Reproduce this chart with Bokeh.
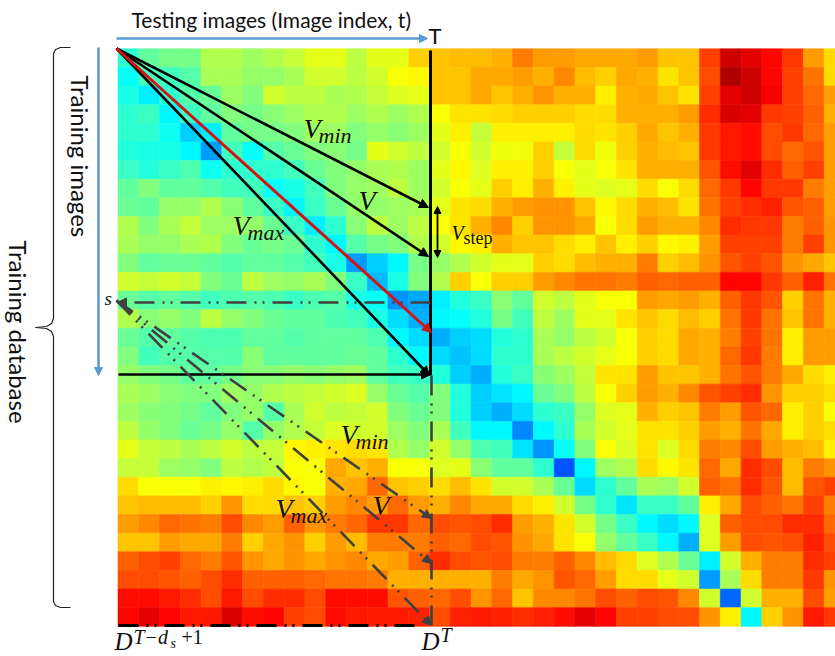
from bokeh.plotting import figure
from bokeh.models import Range1d, ColumnDataSource, LinearColorMapper, Arrow, NormalHead
from bokeh.transform import transform
from bokeh.core.properties import value
from bokeh.embed import file_html
from bokeh.resources import INLINE
import math

# Cell values on a 0-100 colour scale, one list per training image (row), 35 testing images (columns)
similarity = [
 [42,47,49,49,55,55,53,55,57,60,60,56,60,60,67,68,69, 69,70,75,72,72,71,71,71,72,68,68,81,92,90,87,82,72,66],
 [38,44,44,46,54,54,52,52,54,58,58,56,58,62,63,68,68, 71,71,72,70,74,69,67,71,70,65,68,80,95,92,87,81,76,66],
 [40,36,42,46,48,53,50,58,56,56,54,55,57,59,60,68,68, 71,68,70,73,70,70,64,70,71,68,65,81,90,92,88,81,77,72],
 [42,43,37,43,47,50,49,51,53,55,55,53,55,53,55,62,65, 65,66,67,67,67,66,66,70,70,70,72,83,91,90,82,81,78,70],
 [42,42,39,33,36,47,49,49,50,53,53,50,52,51,53,60,64, 57,64,64,64,64,66,65,67,71,68,70,82,85,86,80,82,77,72],
 [41,40,40,37,28,44,38,46,48,50,51,49,60,58,56,58,62, 58,61,61,67,57,66,61,67,70,69,68,82,85,86,80,77,79,72],
 [43,41,43,45,39,42,42,42,44,48,50,52,54,55,53,60,63, 59,64,64,67,62,60,62,65,70,70,70,79,86,90,83,78,81,72],
 [47,50,47,47,46,44,44,38,40,44,50,52,53,56,53,58,62, 60,67,64,70,64,60,59,60,66,62,66,77,82,87,82,82,75,72],
 [48,47,52,52,55,51,47,43,37,43,48,52,52,53,54,60,65, 66,70,72,73,73,68,63,66,70,69,65,76,81,83,84,79,78,72],
 [55,50,54,57,53,53,52,48,43,36,42,51,56,53,56,62,65, 70,74,67,73,73,71,62,66,72,70,70,74,83,82,82,75,78,73],
 [54,52,52,54,55,50,48,49,48,42,37,46,49,50,55,58,63, 64,70,68,68,66,64,68,64,67,63,64,72,81,81,81,75,81,73],
 [50,47,48,48,47,46,47,47,46,44,40,28,33,37,49,52,55, 58,60,60,67,66,69,70,70,75,67,69,73,79,81,79,73,71,68],
 [58,57,58,57,50,48,56,53,52,54,50,43,31,40,50,55,67, 62,67,67,72,74,76,76,75,78,77,78,78,87,87,82,78,84,76],
 [48,46,47,46,44,45,46,45,43,45,46,40,38,27,29,36,41, 43,51,47,58,56,60,62,62,72,71,72,70,78,82,79,67,76,70],
 [55,51,52,50,56,52,50,48,47,47,45,44,40,34,30,37,38, 41,49,44,56,53,60,60,65,68,66,69,67,76,82,76,68,76,70],
 [48,46,47,46,45,45,47,47,46,47,47,47,45,37,34,30,33, 34,41,42,54,52,56,58,62,67,66,71,70,75,81,76,64,72,72],
 [50,44,46,46,46,46,51,47,47,47,47,48,47,42,37,34,32, 34,42,42,54,56,58,60,62,67,66,71,70,77,82,75,64,72,72],
 [52,50,49,47,47,49,51,51,52,51,52,53,47,44,43,41,33, 30,41,43,51,53,57,65,65,72,68,68,70,76,79,75,71,66,64],
 [54,53,51,50,50,53,52,55,56,57,58,59,52,48,46,50,41, 33,35,37,48,50,56,62,67,72,70,74,79,81,83,73,67,67,66],
 [53,51,50,49,47,50,52,46,54,58,56,57,58,50,48,50,41, 33,30,34,42,43,52,59,60,70,67,68,75,72,79,77,64,67,62],
 [56,52,50,48,49,52,46,52,55,57,59,58,58,53,50,54,44, 37,37,26,37,42,54,58,60,65,65,67,72,70,76,71,64,67,66],
 [60,57,56,54,56,58,56,57,63,64,65,66,65,55,52,58,52, 45,44,35,27,38,50,62,59,65,59,66,75,74,80,72,70,69,64],
 [57,57,53,52,50,56,55,56,62,62,71,68,70,62,62,59,60, 51,47,47,42,21,37,53,55,66,63,65,77,71,83,80,69,75,73],
 [66,62,62,62,64,63,64,66,63,62,70,71,77,68,67,66,69, 65,58,58,54,48,34,42,47,54,53,58,78,76,83,79,69,79,81],
 [68,69,69,69,67,73,66,66,68,67,72,74,72,77,72,70,74, 71,71,66,64,58,49,42,35,43,43,47,64,71,80,78,76,81,75],
 [72,74,77,76,75,80,74,72,78,73,75,77,82,82,77,80,79, 80,83,72,70,65,58,49,43,37,34,37,59,78,80,80,83,83,77],
 [68,68,72,71,71,75,67,71,73,67,72,69,75,75,75,78,77, 80,79,73,71,65,62,52,47,43,37,30,59,72,80,79,80,84,80],
 [78,80,81,77,75,79,73,71,73,71,73,74,71,72,78,83,80, 79,80,75,75,78,74,69,66,59,55,48,36,58,70,75,75,83,81],
 [80,80,79,78,80,83,78,78,78,77,76,76,75,70,70,70,70, 70,75,71,73,79,77,72,66,66,60,58,28,54,66,75,75,82,73],
 [86,86,85,83,80,85,80,83,83,80,86,86,86,79,78,77,80, 73,77,68,74,74,76,80,78,80,79,74,58,23,58,70,70,80,72],
 [87,90,87,85,85,91,86,87,81,80,86,85,85,85,84,80,84, 85,84,83,84,86,90,87,81,81,80,80,73,64,37,67,73,85,82],
]

title_top = "Testing images (Image index, t)"
title_left = "Training images"
title_outer = "Training database"

W, H = 835, 656
CW, CH, X0, Y0 = 20.77, 18.63, 117.5, 48.3


def X(px):
    return (px - X0) / CW


def Y(py):
    return (py - Y0) / CH


def jet(t):
    def ramp(c):
        return max(0.0, min(1.0, 1.5 - abs(4 * t - c)))
    return "#%02x%02x%02x" % tuple(int(255 * ramp(c)) for c in (3, 2, 1))


palette = [jet(i / 255) for i in range(256)]
mapper = LinearColorMapper(palette=palette, low=0, high=100)

xs, ys, vs = [], [], []
for r, row in enumerate(similarity):
    for c, v in enumerate(row):
        xs.append(c + 0.5)
        ys.append(r + 0.5)
        vs.append(v)
src = ColumnDataSource(dict(x=xs, y=ys, v=vs))

p = figure(width=W, height=H, output_backend="svg", toolbar_location=None,
           x_range=Range1d(X(0), X(W)), y_range=Range1d(Y(H), Y(0)),
           min_border=0, outline_line_color=None)
p.axis.visible = False
p.grid.visible = False
p.background_fill_color = "white"

p.rect("x", "y", width=1, height=1, source=src,
       fill_color=transform("v", mapper), line_color=transform("v", mapper), line_width=0.6)


def arrow(x0, y0, x1, y1, color="black", width=2.6, dash="solid", size=9, both=False):
    head = NormalHead(size=size, fill_color=color, line_color=color, line_width=1)
    start = NormalHead(size=size, fill_color=color, line_color=color, line_width=1) if both else None
    p.add_layout(Arrow(x_start=X(x0), y_start=Y(y0), x_end=X(x1), y_end=Y(y1),
                       line_color=color, line_width=width, line_dash=dash, end=head, start=start))


def line(pts, color="black", width=2.2, dash="solid"):
    p.line([X(a) for a, _ in pts], [Y(b) for _, b in pts], line_color=color,
           line_width=width, line_dash=dash)


def label(txt, x, y, size, font="Lato", style="normal", vertical=False, color="#111111"):
    # the renderer draws alphabetic text about 0.36 em below its anchor, so the anchor is lifted
    lift = 0.36 * size
    px, py = (x + lift, y) if vertical else (x, y - lift)
    p.text([X(px)], [Y(py)], text=[txt], text_font=value(font), text_font_size=f"{size}px",
           text_font_style=style, angle=-math.pi / 2 if vertical else 0.0, text_color=color,
           text_align="left", text_baseline="alphabetic")


BLUE = "#5b9bd5"
GREY = "#404040"
DASH = "20 8 2 6 2 8"

# blue axis arrows
arrow(116, 38, 427, 38, BLUE, 2.6, size=8)
arrow(98, 47, 98, 375, BLUE, 2.6, size=8)

# black solid construction
line([(430, 50), (430, 375)], width=3)
arrow(116, 48, 428, 207)
arrow(116, 48, 428, 256)
arrow(116, 48, 429, 375)
arrow(118, 374, 430, 374)
arrow(116, 48, 431, 332, "#d21414", 3)
arrow(437, 206, 437, 257, width=1.8, size=7, both=True)

# dashed lower construction
arrow(430, 302, 117, 302, GREY, 2.6, DASH)
arrow(116, 300, 431, 518, GREY, 2.6, DASH)
arrow(116, 300, 431, 563, GREY, 2.6, DASH)
arrow(116, 300, 431, 625, GREY, 2.6, DASH)
line([(431, 375), (431, 625)], GREY, 2.6, DASH)
line([(118, 625), (420, 625)], "black", 3, DASH)

# brace
line([(70, 47), (60, 47), (55, 49), (53, 53), (53, 318), (51, 323), (46, 326), (35, 327)],
     "#222222", 1.2)
line([(35, 327), (46, 328), (51, 331), (53, 336), (53, 601), (55, 605), (60, 607), (70, 607)],
     "#222222", 1.2)

# texts
label(title_top, 131, 27, 21)
label("T", 428, 43, 22)
label(title_left, 71, 75, 24, vertical=True)
label(title_outer, 9, 240, 24, vertical=True)

SERIF = "Liberation Serif"
label("s", 104, 305, 19, SERIF, "italic")


def vee(sub, x, y):
    label("V", x, y, 28, SERIF, "italic")
    if sub:
        label(sub, x + 15, y + 5, 22, SERIF, "italic")


vee("min", 303, 138)
vee("", 358, 210)
vee("max", 232, 235)
vee("min", 340, 444)
vee("", 372, 515)
vee("max", 275, 518)
label("V", 451, 240, 20, SERIF, "italic")
label("step", 463, 244, 18, SERIF)

label("D", 114, 650, 25, SERIF, "italic")
label("T\u2212d", 133, 644, 20, SERIF, "italic")
label("s", 170, 648, 14, SERIF, "italic")
label("+1", 181, 644, 20, SERIF)
label("D", 421, 650, 25, SERIF, "italic")
label("T", 440, 642, 20, SERIF, "italic")

open("out.html", "w").write(file_html(p, INLINE))
